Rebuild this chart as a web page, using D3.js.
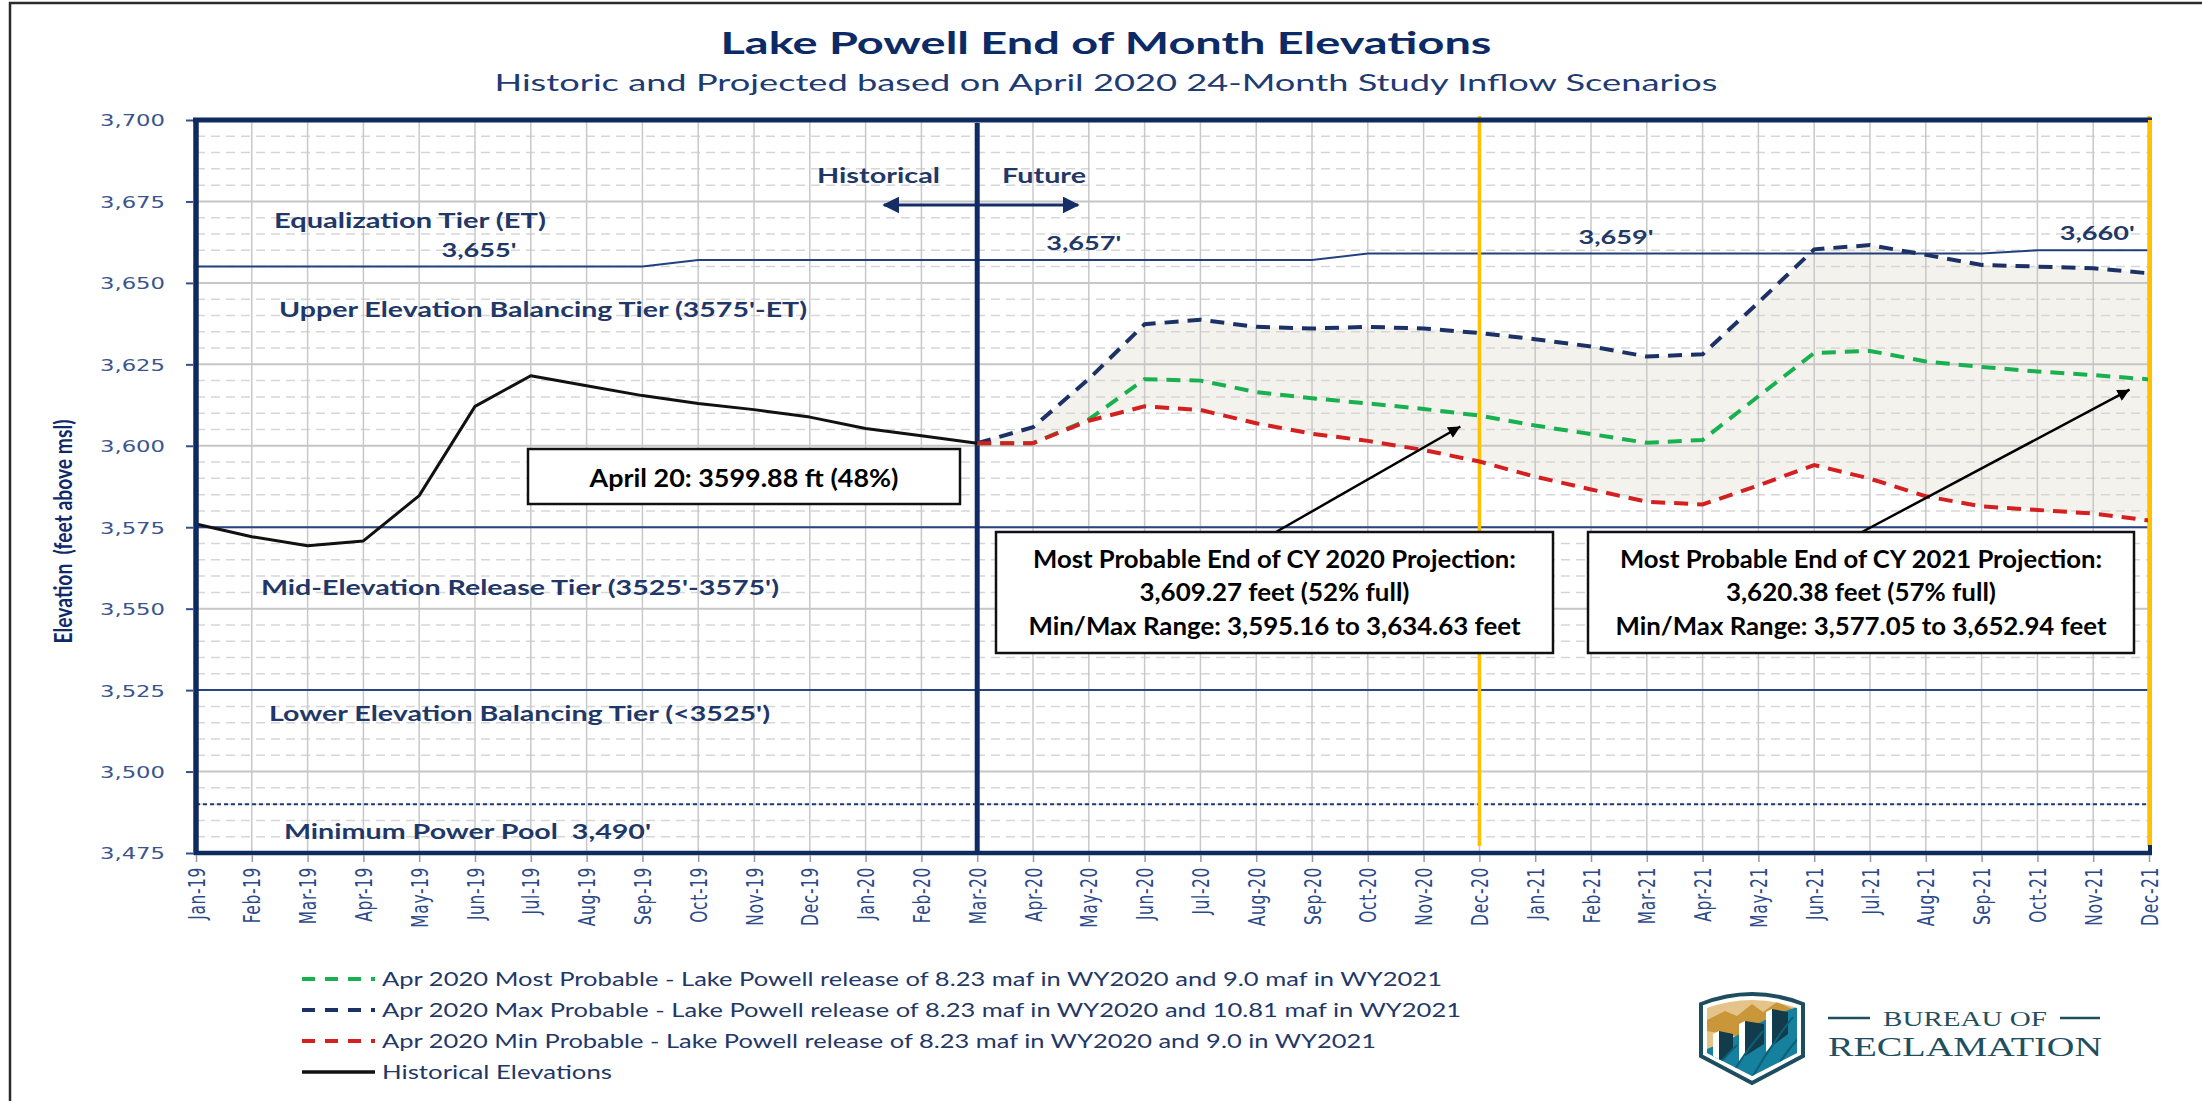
<!DOCTYPE html>
<html>
<head>
<meta charset="utf-8">
<script src="https://cdn.jsdelivr.net/npm/d3@7"></script>
<style>
  body { margin: 0; background: #fff; }
  svg { display: block; }
  text { white-space: pre; }
</style>
</head>
<body>
<svg id="chart" width="2202" height="1101"></svg>
<script>
// ---- data ----
const months = ["Jan-19","Feb-19","Mar-19","Apr-19","May-19","Jun-19","Jul-19","Aug-19","Sep-19","Oct-19","Nov-19","Dec-19",
  "Jan-20","Feb-20","Mar-20","Apr-20","May-20","Jun-20","Jul-20","Aug-20","Sep-20","Oct-20","Nov-20","Dec-20",
  "Jan-21","Feb-21","Mar-21","Apr-21","May-21","Jun-21","Jul-21","Aug-21","Sep-21","Oct-21","Nov-21","Dec-21"];

const yTicks = [3475, 3500, 3525, 3550, 3575, 3600, 3625, 3650, 3675, 3700];

// Jan-19 .. Mar-20
const historical = [3576.0, 3572.1, 3569.3, 3570.8, 3584.7, 3612.1, 3621.5, 3618.4, 3615.4, 3613.0, 3611.1, 3608.8, 3605.3, 3603.1, 3600.8];

// Mar-20 .. Dec-21
const projMonths = months.slice(14);
const mostProbable = [3600.8, 3600.8, 3608.1, 3620.4, 3620.0, 3616.5, 3614.6, 3613.0, 3611.3, 3609.27, 3606.2, 3603.6,
  3600.9, 3601.8, 3615.2, 3628.5, 3629.1, 3625.9, 3624.2, 3622.8, 3621.7, 3620.38];
const maxProbable = [3600.8, 3605.7, 3620.5, 3637.3, 3638.7, 3636.5, 3636.0, 3636.5, 3636.0, 3634.63, 3632.7, 3630.5,
  3627.4, 3628.1, 3644.0, 3660.3, 3661.6, 3658.6, 3655.5, 3655.0, 3654.5, 3652.94];
const minProbable = [3600.8, 3600.8, 3607.7, 3612.1, 3611.0, 3606.9, 3603.7, 3601.5, 3598.7, 3595.16, 3590.5, 3586.6,
  3582.8, 3582.0, 3587.8, 3594.1, 3589.9, 3584.5, 3581.4, 3580.3, 3579.2, 3577.05];

// equalization tier elevation per month
const equalizationTier = [3655,3655,3655,3655,3655,3655,3655,3655,3655,
  3657,3657,3657,3657,3657,3657,3657,3657,3657,3657,3657,3657,
  3659,3659,3659,3659,3659,3659,3659,3659,3659,3659,3659,3659,
  3660,3660,3660];
const etLabels = ["3,655'", "3,657'", "3,659'", "3,660'"];
const etLabelMonths = ["Jun-19", "May-20", "Feb-21", "Nov-21"];

const midTier = 3575, lowerTier = 3525, minPowerPool = 3490;

const legendLabels = [
  "Apr 2020 Most Probable - Lake Powell release of 8.23 maf in WY2020 and 9.0 maf in WY2021",
  "Apr 2020 Max Probable - Lake Powell release of 8.23 maf in WY2020 and 10.81 maf in WY2021",
  "Apr 2020 Min Probable - Lake Powell release of 8.23 maf in WY2020 and 9.0 in WY2021",
  "Historical Elevations"
];

// ---- styles ----
const FONT = "Lato, 'Open Sans', sans-serif";
const TICKFONT = "'DejaVu Sans', Verdana, sans-serif";
const NAVY = "#1f3868";
const FRAME = "#0f2a5f";
const GREEN = "#19b04f", BLUE = "#1c3266", RED = "#d42020";

const svg = d3.select("#chart");

const x = d3.scalePoint().domain(months).range([196, 2149]);
const y = d3.scaleLinear().domain([3475, 3700]).range([853, 120]);
const plotTop = y(3700), plotBottom = y(3475), plotLeft = x(months[0]), plotRight = x(months[months.length - 1]);

function txt(g, s, o) {
  const t = g.append("text").text(s)
    .attr("x", o.x).attr("y", o.y)
    .attr("font-family", o.font || FONT)
    .attr("font-size", o.size)
    .attr("font-weight", o.weight || "normal")
    .attr("fill", o.fill || NAVY)
    .attr("text-anchor", o.anchor || "start");
  if (o.w) t.attr("textLength", o.w).attr("lengthAdjust", "spacingAndGlyphs");
  return t;
}

const defs = svg.append("defs");
defs.append("marker").attr("id", "arrowBlack")
  .attr("viewBox", "0 0 10 10").attr("refX", 10).attr("refY", 5)
  .attr("markerWidth", 16).attr("markerHeight", 12).attr("markerUnits", "userSpaceOnUse")
  .attr("orient", "auto")
  .append("path").attr("d", "M0,0 L10,5 L0,10 z").attr("fill", "#000");
defs.append("marker").attr("id", "arrowNavy")
  .attr("viewBox", "0 0 10 10").attr("refX", 9).attr("refY", 5)
  .attr("markerWidth", 17).attr("markerHeight", 17).attr("markerUnits", "userSpaceOnUse")
  .attr("orient", "auto-start-reverse")
  .append("path").attr("d", "M0,0 L10,5 L0,10 z").attr("fill", "#142d66");

// outer frame of the picture
svg.append("path").attr("d", "M10,1101 L10,3 L2202,3")
  .attr("fill", "none").attr("stroke", "#2b2b2b").attr("stroke-width", 2.5);

// titles
txt(svg, "Lake Powell End of Month Elevations", {x: 1106, y: 54, size: 31, weight: "bold", fill: "#0b2a66", anchor: "middle", w: 771});
txt(svg, "Historic and Projected based on April 2020 24-Month Study Inflow Scenarios", {x: 1106, y: 91, size: 24, fill: "#203a72", anchor: "middle", w: 1223});

// range fill
svg.append("path")
  .datum(projMonths.map((m, i) => i))
  .attr("fill", "#f4f2ec")
  .attr("d", d3.area()
    .x(i => x(projMonths[i]))
    .y0(i => y(minProbable[i]))
    .y1(i => y(maxProbable[i])));

// grid
const grid = svg.append("g");
const minor = d3.range(3480, 3700, 5).filter(v => v % 25 !== 0);
grid.selectAll(".minor").data(minor).join("line")
  .attr("x1", plotLeft).attr("x2", plotRight).attr("y1", d => y(d)).attr("y2", d => y(d))
  .attr("stroke", "#d6d6d6").attr("stroke-width", 1.5).attr("stroke-dasharray", "9,6");
grid.selectAll(".major").data(yTicks.slice(1, -1)).join("line")
  .attr("x1", plotLeft).attr("x2", plotRight).attr("y1", d => y(d)).attr("y2", d => y(d))
  .attr("stroke", "#c6c6c6").attr("stroke-width", 2);
grid.selectAll(".vert").data(months).join("line")
  .attr("x1", d => x(d)).attr("x2", d => x(d)).attr("y1", plotTop).attr("y2", plotBottom)
  .attr("stroke", "#c8c8c8").attr("stroke-width", 1.5);

// tier lines
[midTier, lowerTier].forEach(v => {
  svg.append("line").attr("x1", plotLeft).attr("x2", plotRight).attr("y1", y(v)).attr("y2", y(v))
    .attr("stroke", "#2a4585").attr("stroke-width", 2);
});
svg.append("line").attr("x1", plotLeft).attr("x2", plotRight).attr("y1", y(minPowerPool)).attr("y2", y(minPowerPool))
  .attr("stroke", "#1f3a78").attr("stroke-width", 2).attr("stroke-dasharray", "4,3");
svg.append("path").datum(equalizationTier)
  .attr("fill", "none").attr("stroke", "#22407e").attr("stroke-width", 2)
  .attr("d", d3.line().x((d, i) => x(months[i])).y(d => y(d)));

// yellow calendar-year markers
["Dec-20", "Dec-21"].forEach(m => {
  svg.append("line").attr("x1", x(m)).attr("x2", x(m)).attr("y1", plotTop - 4).attr("y2", plotBottom - 7)
    .attr("stroke", "#ffc000").attr("stroke-width", 3.5);
});

// historical / future divider
svg.append("line").attr("x1", x("Mar-20")).attr("x2", x("Mar-20")).attr("y1", plotTop + 3).attr("y2", plotBottom)
  .attr("stroke", "#102a63").attr("stroke-width", 5);

// series
const projLine = vals => d3.line().x((d, i) => x(projMonths[i])).y(d => y(d))(vals);
[[mostProbable, GREEN], [maxProbable, BLUE], [minProbable, RED]].forEach(([vals, col]) => {
  svg.append("path").attr("d", projLine(vals))
    .attr("fill", "none").attr("stroke", col).attr("stroke-width", 4)
    .attr("stroke-dasharray", "14,9");
});
svg.append("path").datum(historical)
  .attr("fill", "none").attr("stroke", "#111").attr("stroke-width", 3)
  .attr("stroke-linejoin", "round")
  .attr("d", d3.line().x((d, i) => x(months[i])).y(d => y(d)));

// plot frame
svg.append("line").attr("x1", plotLeft - 3).attr("x2", plotRight + 3).attr("y1", plotTop).attr("y2", plotTop)
  .attr("stroke", FRAME).attr("stroke-width", 5);
svg.append("line").attr("x1", plotLeft).attr("x2", plotLeft).attr("y1", plotTop - 2).attr("y2", plotBottom + 2)
  .attr("stroke", FRAME).attr("stroke-width", 5.5);
svg.append("line").attr("x1", plotLeft - 2).attr("x2", plotRight + 3).attr("y1", plotBottom).attr("y2", plotBottom)
  .attr("stroke", FRAME).attr("stroke-width", 4.5);
svg.append("line").attr("x1", plotRight + 1).attr("x2", plotRight + 1).attr("y1", plotBottom - 10).attr("y2", plotBottom)
  .attr("stroke", FRAME).attr("stroke-width", 4);
svg.append("line").attr("x1", plotRight + 1).attr("x2", plotRight + 1).attr("y1", plotTop).attr("y2", plotBottom - 8)
  .attr("stroke", "#ffc000").attr("stroke-width", 4);

// axes
const yAxis = svg.append("g").attr("transform", `translate(${plotLeft - 3},0)`)
  .call(d3.axisLeft(y).tickValues(yTicks).tickSize(7).tickPadding(21).tickFormat(d3.format(",")));
yAxis.select(".domain").remove();
yAxis.selectAll("line").attr("stroke", "#34508a").attr("stroke-width", 2);
yAxis.selectAll("text")
  .attr("font-family", TICKFONT).attr("font-size", 16.5).attr("fill", "#3a558e")
  .attr("dy", "0.36em")
  .attr("textLength", 65).attr("lengthAdjust", "spacingAndGlyphs");

const xAxis = svg.append("g").attr("transform", `translate(0,${plotBottom + 2})`)
  .call(d3.axisBottom(x).tickSize(7));
xAxis.select(".domain").remove();
xAxis.selectAll("line").attr("stroke", "#9a9a9a").attr("stroke-width", 1.5);
xAxis.selectAll("text")
  .attr("font-family", TICKFONT).attr("font-size", 15.5).attr("fill", "#2c4a8a")
  .attr("letter-spacing", 0.6)
  .attr("text-anchor", "end")
  .attr("x", 0).attr("y", 0).attr("dy", "0.36em")
  .attr("transform", "translate(0,12) rotate(-90) scale(1,1.45)");

// y axis title
svg.append("text").text("Elevation  (feet above msl)")
  .attr("transform", `translate(63,${(plotTop + plotBottom) / 2 + 45}) rotate(-90) scale(1,1.5)`)
  .attr("text-anchor", "middle").attr("dy", "0.36em")
  .attr("font-family", FONT).attr("font-weight", "bold").attr("font-size", 16.5)
  .attr("fill", "#0f2a6b")
  .attr("textLength", 224).attr("lengthAdjust", "spacingAndGlyphs");

// tier labels
const lab = svg.append("g");
txt(lab, "Equalization Tier (ET)", {x: 274, y: 228, size: 20, weight: "bold", w: 272});
txt(lab, "Upper Elevation Balancing Tier (3575'-ET)", {x: 279, y: 317, size: 20, weight: "bold", w: 528});
txt(lab, "Mid-Elevation Release Tier (3525'-3575')", {x: 261, y: 595, size: 20, weight: "bold", w: 518});
txt(lab, "Lower Elevation Balancing Tier (<3525')", {x: 269, y: 721, size: 20, weight: "bold", w: 501});
txt(lab, "Minimum Power Pool  3,490'", {x: 284, y: 839, size: 20, weight: "bold", w: 367});
const etLabelShift = [4, -5, 25, 4];
etLabels.forEach((s, i) => {
  const mi = months.indexOf(etLabelMonths[i]);
  txt(lab, s, {x: x(etLabelMonths[i]) + etLabelShift[i], y: y(equalizationTier[mi]) - 10, size: 18, weight: "bold", anchor: "middle", w: 75});
});

// historical / future marker
txt(lab, "Historical", {x: 817, y: 183, size: 20, weight: "bold", w: 123});
txt(lab, "Future", {x: 1002, y: 183, size: 20, weight: "bold", w: 84});
svg.append("line").attr("x1", 884).attr("x2", 1078).attr("y1", 205).attr("y2", 205)
  .attr("stroke", "#142d66").attr("stroke-width", 3)
  .attr("marker-start", "url(#arrowNavy)").attr("marker-end", "url(#arrowNavy)");

// annotation boxes
function box(x0, y0, w, h, lines, baselines, widths) {
  const g = svg.append("g");
  g.append("rect").attr("x", x0).attr("y", y0).attr("width", w).attr("height", h)
    .attr("fill", "#fff").attr("stroke", "#111").attr("stroke-width", 2.5);
  lines.forEach((s, i) => txt(g, s, {x: x0 + w / 2, y: baselines[i], size: 25, weight: "bold", fill: "#000", anchor: "middle", w: widths[i]}));
}
box(528, 449, 432, 55, ["April 20: 3599.88 ft (48%)"], [487], [309]);

function pointer(sx, sy, month, val) {
  const px = x(month), py = y(val);
  const dx = sx - px, dy = sy - py, len = Math.hypot(dx, dy);
  svg.append("line").attr("x1", sx).attr("y1", sy)
    .attr("x2", px + dx / len * 22).attr("y2", py + dy / len * 22)
    .attr("stroke", "#000").attr("stroke-width", 2.5).attr("marker-end", "url(#arrowBlack)");
}
pointer(1276, 532, "Dec-20", mostProbable[projMonths.indexOf("Dec-20")]);
pointer(1862, 532, "Dec-21", mostProbable[projMonths.indexOf("Dec-21")]);

box(996, 532, 557, 121,
  ["Most Probable End of CY 2020 Projection:", "3,609.27 feet (52% full)", "Min/Max Range: 3,595.16 to 3,634.63 feet"],
  [568, 601, 635], [483, 270, 492]);
box(1588, 532, 546, 121,
  ["Most Probable End of CY 2021 Projection:", "3,620.38 feet (57% full)", "Min/Max Range: 3,577.05 to 3,652.94 feet"],
  [568, 601, 635], [482, 270, 491]);

// legend
const legendColors = [GREEN, BLUE, RED, "#111"];
const legendWidths = [1060, 1079, 994, 230];
const leg = svg.append("g");
legendLabels.forEach((s, i) => {
  const cy = 979 + i * 31;
  leg.append("line").attr("x1", 302).attr("x2", 375).attr("y1", cy).attr("y2", cy)
    .attr("stroke", legendColors[i]).attr("stroke-width", i === 3 ? 3.5 : 4)
    .attr("stroke-dasharray", i === 3 ? null : "13,10");
  txt(leg, s, {x: 382, y: cy + 7, size: 18.5, fill: "#1f3868", w: legendWidths[i]});
});

// Bureau of Reclamation logo
const logo = svg.append("g").attr("transform", "translate(1697,987)");
const shield = "M4,17 Q55,-3 106,17 L106,69 L55,96 L4,69 Z";
const inner = "M10,21 Q55,5 100,21 L100,66 L55,89 L10,66 Z";
defs.append("clipPath").attr("id", "shieldClip").append("path").attr("d", inner);
logo.append("path").attr("d", shield).attr("fill", "#fff").attr("stroke", "#1d4d5e").attr("stroke-width", 4);
const art = logo.append("g").attr("clip-path", "url(#shieldClip)");
art.append("rect").attr("x", 0).attr("y", 0).attr("width", 110).attr("height", 100).attr("fill", "#e4c488");
art.append("path").attr("d", "M10,44 L10,33 L28,24 L40,29 L55,17 L66,25 L80,15 L100,24 L100,60 Z").attr("fill", "#c9973a");
art.append("path").attr("d", "M10,100 L10,62 Q40,50 62,36 Q82,26 100,20 L100,100 Z").attr("fill", "#16809f");
[[22, 47, 14, 28], [48, 37, 19, 32], [75, 25, 16, 34]].forEach(([cx, ty, dw, h]) => {
  art.append("path").attr("d", `M${cx - 6},${ty} L${cx},${ty - 3} L${cx},${ty + h} L${cx - 6},${ty + h + 6} Z`).attr("fill", "#fff");
  art.append("path").attr("d", `M${cx},${ty - 3} L${cx + dw},${ty} L${cx + dw},${ty + h - 12} L${cx},${ty + h} Z`).attr("fill", "#123b4c");
});
[[12, 92, 40, 58], [30, 96, 66, 44], [52, 96, 96, 30], [70, 96, 104, 48]].forEach(([x1, y1, x2, y2]) => {
  art.append("path").attr("d", `M${x1},${y1} Q${(x1 + x2) / 2 - 4},${(y1 + y2) / 2} ${x2},${y2}`)
    .attr("fill", "none").attr("stroke", "#0e5f78").attr("stroke-width", 2);
});
const LOGO = "#1f4f60";
svg.append("line").attr("x1", 1828).attr("x2", 1870).attr("y1", 1018).attr("y2", 1018).attr("stroke", LOGO).attr("stroke-width", 2.5);
svg.append("line").attr("x1", 2060).attr("x2", 2100).attr("y1", 1018).attr("y2", 1018).attr("stroke", LOGO).attr("stroke-width", 2.5);
txt(svg, "BUREAU OF", {x: 1965, y: 1026, size: 22, font: "'Liberation Serif', 'DejaVu Serif', serif", fill: LOGO, anchor: "middle", w: 164});
txt(svg, "RECLAMATION", {x: 1828, y: 1056, size: 27, font: "'Liberation Serif', 'DejaVu Serif', serif", fill: LOGO, w: 274});
</script>
</body>
</html>
